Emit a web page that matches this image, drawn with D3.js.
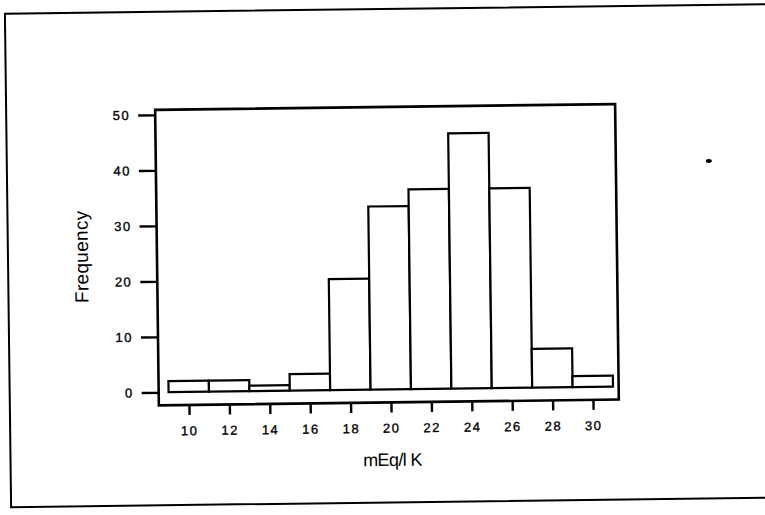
<!DOCTYPE html>
<html>
<head>
<meta charset="utf-8">
<script src="https://cdn.jsdelivr.net/npm/d3@7"></script>
<style>
  html, body { margin: 0; padding: 0; background: #fff; }
  svg { display: block; }
  .tick text { font-family: "Liberation Sans", Arial, sans-serif; font-size: 13px; letter-spacing: 1.5px; fill: #000; stroke: #000; stroke-width: 0.35px; }
  .lbl { font-family: "Liberation Sans", Arial, sans-serif; fill: #000; }
</style>
</head>
<body>
<svg width="765" height="515"></svg>
<script>
// potassium histogram
const binCenters = [10, 12, 14, 16, 18, 20, 22, 24, 26, 28, 30];
const counts = [2, 2, 1, 3, 20, 33, 36, 46, 36, 7, 2];
const binWidth = 2;
const xTicks = [10, 12, 14, 16, 18, 20, 22, 24, 26, 28, 30];
const yTicks = [0, 10, 20, 30, 40, 50];

const width = 765,
  height = 515;
const svg = d3.select("svg");

// the scan is a little crooked, so tilt everything the same way
const g = svg.append("g").attr("transform", "rotate(-0.72, 383, 257)");

// outer page box (right edge runs off the page)
g.append("rect")
  .attr("x", 8)
  .attr("y", 9)
  .attr("width", 780)
  .attr("height", 493.5)
  .attr("fill", "none")
  .attr("stroke", "#000")
  .attr("stroke-width", 2);

const plot = { left: 157, right: 617, top: 107, bottom: 402.5 };

const x = d3.scaleLinear().domain([8.51, 31.28]).range([plot.left, plot.right]);
const y = d3.scaleLinear().domain([-2.34, 50.9]).range([plot.bottom, plot.top]);

// bars
g.selectAll(".bar")
  .data(binCenters.map((c, i) => ({ c, n: counts[i] })))
  .enter()
  .append("rect")
  .attr("class", "bar")
  .attr("x", d => x(d.c - binWidth / 2))
  .attr("width", d => x(d.c + binWidth / 2) - x(d.c - binWidth / 2))
  .attr("y", d => y(d.n))
  .attr("height", d => y(0) - y(d.n))
  .attr("fill", "#fff")
  .attr("stroke", "#000")
  .attr("stroke-width", 2.2);

// frame
g.append("rect")
  .attr("x", plot.left)
  .attr("y", plot.top)
  .attr("width", plot.right - plot.left)
  .attr("height", plot.bottom - plot.top)
  .attr("fill", "none")
  .attr("stroke", "#000")
  .attr("stroke-width", 2.6);

// axes
const yAxis = g.append("g")
  .attr("transform", `translate(${plot.left},0)`)
  .call(d3.axisLeft(y).tickValues(yTicks).tickSize(17).tickPadding(8).tickSizeOuter(0));
yAxis.select(".domain").remove();

const xAxis = g.append("g")
  .attr("transform", `translate(0,${plot.bottom})`)
  .call(d3.axisBottom(x).tickValues(xTicks).tickSize(10).tickPadding(11).tickSizeOuter(0));
xAxis.select(".domain").remove();

g.selectAll(".tick line").attr("stroke", "#000").attr("stroke-width", 2.4);

// axis titles
g.append("text")
  .attr("class", "lbl")
  .attr("transform", "translate(88, 253) rotate(-90)")
  .attr("text-anchor", "middle")
  .style("font-size", "19px")
  .style("letter-spacing", "0.3px")
  .text("Frequency");

g.append("text")
  .attr("class", "lbl")
  .attr("x", 390)
  .attr("y", 466)
  .attr("text-anchor", "middle")
  .style("font-size", "18px")
  .style("letter-spacing", "-0.6px")
  .text("mEq/l K");

// stray speck on the scan
g.append("ellipse")
  .attr("cx", 710)
  .attr("cy", 165)
  .attr("rx", 3)
  .attr("ry", 2)
  .attr("fill", "#000");
</script>
</body>
</html>
